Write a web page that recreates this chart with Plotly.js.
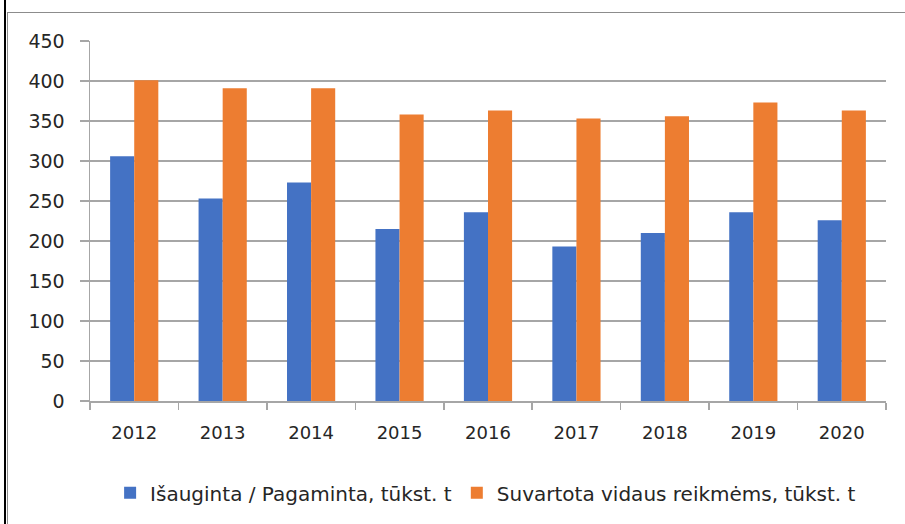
<!DOCTYPE html>
<html>
<head>
<meta charset="utf-8">
<script src="https://cdn.plot.ly/plotly-3.0.1.min.js"></script>
<style>
  html, body { margin: 0; padding: 0; background: #fff; }
  #wrap { position: relative; width: 905px; height: 524px; overflow: hidden; }
  #chart { position: absolute; left: 0; top: 0; width: 905px; height: 524px; }
  .ln { position: absolute; pointer-events: none; }
</style>
</head>
<body>
<div id="wrap">
  <div id="chart"></div>
  <div class="ln" style="left:4px;top:0;width:2px;height:524px;background:#000;"></div>
  <div class="ln" style="left:7px;top:12px;width:1px;height:512px;background:#8c8c8c;"></div>
  <div class="ln" style="left:7px;top:12px;width:898px;height:1px;background:#8c8c8c;"></div>
</div>
<script>
const years = ['2012','2013','2014','2015','2016','2017','2018','2019','2020'];
const grown = [306, 253, 273, 215, 236, 193, 210, 236, 226];
const consumed = [401, 391, 391, 358, 363, 353, 356, 373, 363];
const seriesNames = ['Išauginta / Pagaminta, tūkst. t', 'Suvartota vidaus reikmėms, tūkst. t'];
const yTicks = [0, 50, 100, 150, 200, 250, 300, 350, 400, 450];

const data = [
  { type: 'bar', x: years, y: grown, name: seriesNames[0], marker: { color: '#4472C4' } },
  { type: 'bar', x: years, y: consumed, name: seriesNames[1], marker: { color: '#ED7D31' } }
];

const txt = '#262626';
const fam = 'DejaVu Sans, sans-serif';

const layout = {
  width: 905, height: 524,
  margin: { l: 90, r: 19, t: 41, b: 123 },
  paper_bgcolor: '#ffffff', plot_bgcolor: '#ffffff',
  barmode: 'group', bargap: 0.455, bargroupgap: 0,
  font: { family: fam, color: txt },
  showlegend: true,
  legend: {
    orientation: 'h', x: 0.497, xanchor: 'center', y: -0.255, yanchor: 'middle',
    font: { family: fam, size: 20, color: txt },
    itemwidth: 30, traceorder: 'normal'
  },
  xaxis: {
    type: 'category', tickson: 'boundaries', ticks: 'outside', ticklen: 7, tickcolor: '#a6a6a6', tickwidth: 1.5,
    showline: true, linecolor: '#a6a6a6', linewidth: 1.5, showgrid: false, zeroline: false,
    tickfont: { family: fam, size: 18, color: txt },
    ticklabelstandoff: 15
  },
  yaxis: {
    range: [0, 450], tickvals: yTicks, ticktext: yTicks.map(String),
    ticks: 'outside', ticklen: 9, tickcolor: '#a6a6a6', tickwidth: 1.5,
    showline: true, linecolor: '#a6a6a6', linewidth: 1.5,
    showgrid: true, gridcolor: '#a6a6a6', gridwidth: 1.5, zeroline: false,
    tickfont: { family: fam, size: 19, color: txt },
    ticklabelstandoff: 11
  }
};

Plotly.newPlot('chart', data, layout, { displayModeBar: false, staticPlot: true });
</script>
</body>
</html>
